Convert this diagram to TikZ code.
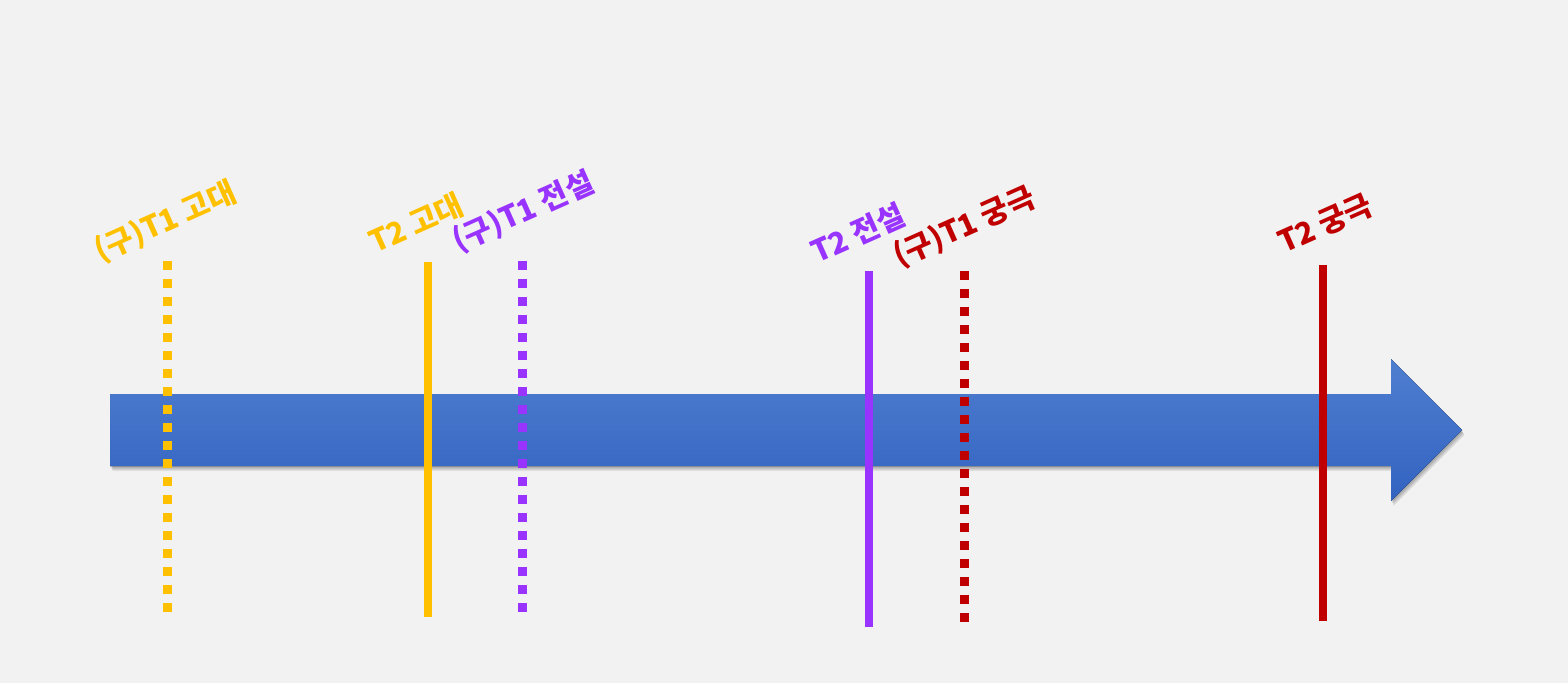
\documentclass[tikz,border=0pt]{standalone}
\usepackage{fontspec}
\newfontfamily\kr{Noto Sans CJK KR}
\definecolor{bg}{HTML}{F2F2F2}
\definecolor{cyel}{HTML}{FFC000}
\definecolor{cpur}{HTML}{9933FF}
\definecolor{cred}{HTML}{C00000}
\definecolor{atop}{HTML}{4F7ED0}
\definecolor{abot}{HTML}{3263C0}
\tikzset{
  lbl/.style={font=\kr\bfseries\fontsize{30}{34}\selectfont, anchor=base west, rotate=24, inner sep=0pt},
  dotline/.style={line width=9pt, dash pattern=on 9pt off 9pt},
  solidline/.style={line width=8pt},
  softshadow/.style={fill=black, fill opacity=0.07},
}
\newcommand{\arrowpath}{(110,394) -- (1391,394) -- (1391,359) -- (1462,430) -- (1391,501) -- (1391,466) -- (110,466) -- cycle}
\begin{document}
\begin{tikzpicture}[x=1pt,y=-1pt]
\useasboundingbox (0,0) rectangle (1568,683);
\fill[bg] (0,0) rectangle (1568,683);
% soft shadow
\foreach \d in {1,2,3,4,5} {
  \fill[softshadow, shift={(0.5*\d,\d)}] \arrowpath;
}
% arrow
\fill[top color=atop, bottom color=abot] \arrowpath;
% coordinates
\coordinate (a1t) at (167.5,261); \coordinate (a1b) at (167.5,613);
\coordinate (a2t) at (428,262);   \coordinate (a2b) at (428,617);
\coordinate (b1t) at (522,261);   \coordinate (b1b) at (522,613);
\coordinate (b2t) at (869,271);   \coordinate (b2b) at (869,627);
\coordinate (c1t) at (964,271);   \coordinate (c1b) at (964,623);
\coordinate (c2t) at (1323,265);  \coordinate (c2b) at (1323,621);
\draw[dotline, cyel] (a1t) -- (a1b);
\draw[solidline, cyel] (a2t) -- (a2b);
\draw[dotline, cpur] (b1t) -- (b1b);
\draw[solidline, cpur] (b2t) -- (b2b);
\draw[dotline, cred] (c1t) -- (c1b);
\draw[solidline, cred] (c2t) -- (c2b);
% labels
\node[lbl, text=cyel] (l1) at (100,262) {(구)T1 고대};
\node[lbl, text=cyel] (l2) at (375,254) {T2 고대};
\node[lbl, text=cpur] (l3) at (458,252) {(구)T1 전설};
\node[lbl, text=cpur] (l4) at (817,264) {T2 전설};
\node[lbl, text=cred] (l5) at (899,267) {(구)T1 궁극};
\node[lbl, text=cred] (l6) at (1284,254) {T2 궁극};
\end{tikzpicture}
\end{document}
